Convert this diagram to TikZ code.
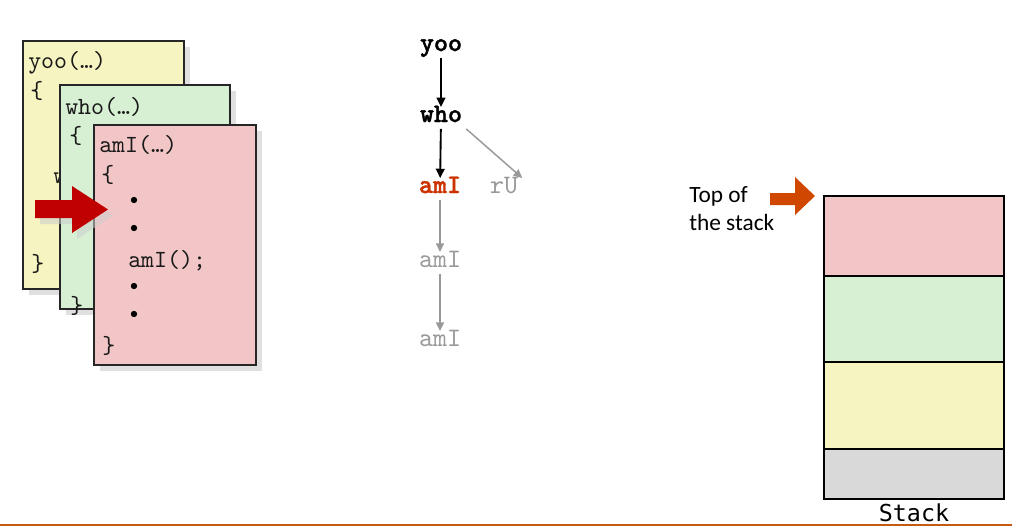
\documentclass[tikz,border=0pt]{standalone}
\usepackage{fontspec}
\setmonofont{lmmono10-regular.otf}[BoldFont=lmmonolt10-bold.otf, BoldFeatures={FakeBold=1.5}]
\newfontfamily\slidefont{Carlito}
\newfontfamily\stackfont{DejaVu Sans Mono}
\usetikzlibrary{arrows.meta, positioning, shadows}
\definecolor{cardyellow}{RGB}{246,244,192}
\definecolor{cardgreen}{RGB}{215,240,211}
\definecolor{cardred}{RGB}{242,198,198}
\definecolor{framegrey}{RGB}{217,217,217}
\definecolor{callred}{RGB}{192,0,0}
\definecolor{toporange}{RGB}{208,72,0}
\definecolor{activered}{RGB}{204,51,0}
\definecolor{rulecolor}{RGB}{197,90,17}
\tikzstyle{card} = [draw=black!85, line width=0.9pt, rectangle, anchor=north west, inner sep=0pt, outer sep=0pt, drop shadow={shadow xshift=4.5pt, shadow yshift=-4.5pt, fill=black!12, opacity=1}]
\tikzstyle{code} = [anchor=west, inner sep=0pt, font=\fontsize{18.5}{21}\selectfont\ttfamily, text=black!90]
\tikzstyle{dot} = [inner sep=0pt, font=\fontsize{12}{14}\selectfont]
\tikzstyle{call} = [font=\fontsize{20}{23}\selectfont\ttfamily, text height=8pt, text depth=2pt, inner sep=3pt]
\tikzstyle{active} = [call, font=\fontsize{20}{23}\selectfont\ttfamily\bfseries]
\tikzstyle{faint} = [call, text=black!40]
\tikzstyle{frame} = [draw, line width=2pt, rectangle, minimum width=135pt, outer sep=0pt, inner sep=0pt]
\tikzstyle{path} = [-{Triangle[length=7pt, width=6.5pt]}, line width=1.4pt]
\tikzstyle{faintpath} = [-{Triangle[length=6.5pt, width=6pt]}, line width=1.1pt, black!40]

\begin{document}
\begin{tikzpicture}[x=0.75pt, y=-0.75pt]
    \useasboundingbox (0,0) rectangle (1012,528);

    % Code cards.
    \node (yoocard) [card, fill=cardyellow, minimum width=120.75pt, minimum height=186pt] at (23,41) {};
    \node (yoohead) [code] at (28,63) {yoo(…)};
    \node (yooopen) [code] at (30,91) {\{};
    \node (yoocall) [code] at (53,176) {who};
    \node (yooclose) [code] at (31,264) {\}};

    \node (whocard) [card, fill=cardgreen, minimum width=127.5pt, minimum height=168pt] at (60,85) {};
    \node (whohead) [code] at (65,107) {who(…)};
    \node (whoopen) [code] at (69,136) {\{};
    \node (whoclose) [code] at (70,306) {\}};

    \node (amicard) [card, fill=cardred, minimum width=121.5pt, minimum height=180pt] at (94,125) {};
    \node (amihead) [code] at (99,145) {amI(…)};
    \node (amiopen) [code] at (101,175) {\{};
    \node (dot1) [dot] at (134,201) {$\bullet$};
    \node (dot2) [dot] at (134,229) {$\bullet$};
    \node (amicall) [code] at (128,261) {amI();};
    \node (dot3) [dot] at (134,287) {$\bullet$};
    \node (dot4) [dot] at (134,315) {$\bullet$};
    \node (amiclose) [code] at (102,346) {\}};

    % Current position.
    \fill [white!80!black, opacity=0.55] (40,206) -- (77,206) -- (77,192) -- (113,215.5) -- (77,239) -- (77,224) -- (40,224) -- cycle;
    \fill [callred] (35,200) -- (72,200) -- (72,186) -- (108,209.5) -- (72,233) -- (72,218) -- (35,218) -- cycle;

    % Call tree.
    \node (yoo) [active] at (441,47) {yoo};
    \node (who) [active] at (441,118) {who};
    \node (ami1) [active, text=activered] at (440,189) {amI};
    \node (ru) [faint] at (504,189) {rU};
    \node (ami2) [faint] at (440,263) {amI};
    \node (ami3) [faint] at (440,342) {amI};

    \draw [path] (yoo) -- (who);
    \draw [path] (who) -- (ami1);
    \draw [faintpath] (who.south east) -- (ru.north east);
    \draw [faintpath] (ami1) -- (ami2);
    \draw [faintpath] (ami2) -- (ami3);

    % Stack.
    \node (toplabel) [anchor=north west, align=left, inner sep=0pt, font=\slidefont\fontsize{17.5}{21}\selectfont] at (689,186) {Top of\\the stack};
    \fill [toporange] (770,193) -- (795,193) -- (795,177) -- (815,196) -- (795,215) -- (795,205) -- (770,205) -- cycle;

    \node (frame1) [frame, fill=cardred, minimum height=60pt, anchor=north west] at (824,196) {};
    \node (frame2) [frame, fill=cardgreen, minimum height=64.5pt, below=0pt of frame1] {};
    \node (frame3) [frame, fill=cardyellow, minimum height=65.25pt, below=0pt of frame2] {};
    \node (frame4) [frame, fill=framegrey, minimum height=37.5pt, below=0pt of frame3] {};
    \node (stacklabel) [below=0pt of frame4, inner sep=3pt, font=\stackfont\fontsize{17.5}{20}\selectfont] {Stack};

    \draw [rulecolor, line width=1.5pt] (0,525) -- (1012,525);
\end{tikzpicture}
\end{document}
